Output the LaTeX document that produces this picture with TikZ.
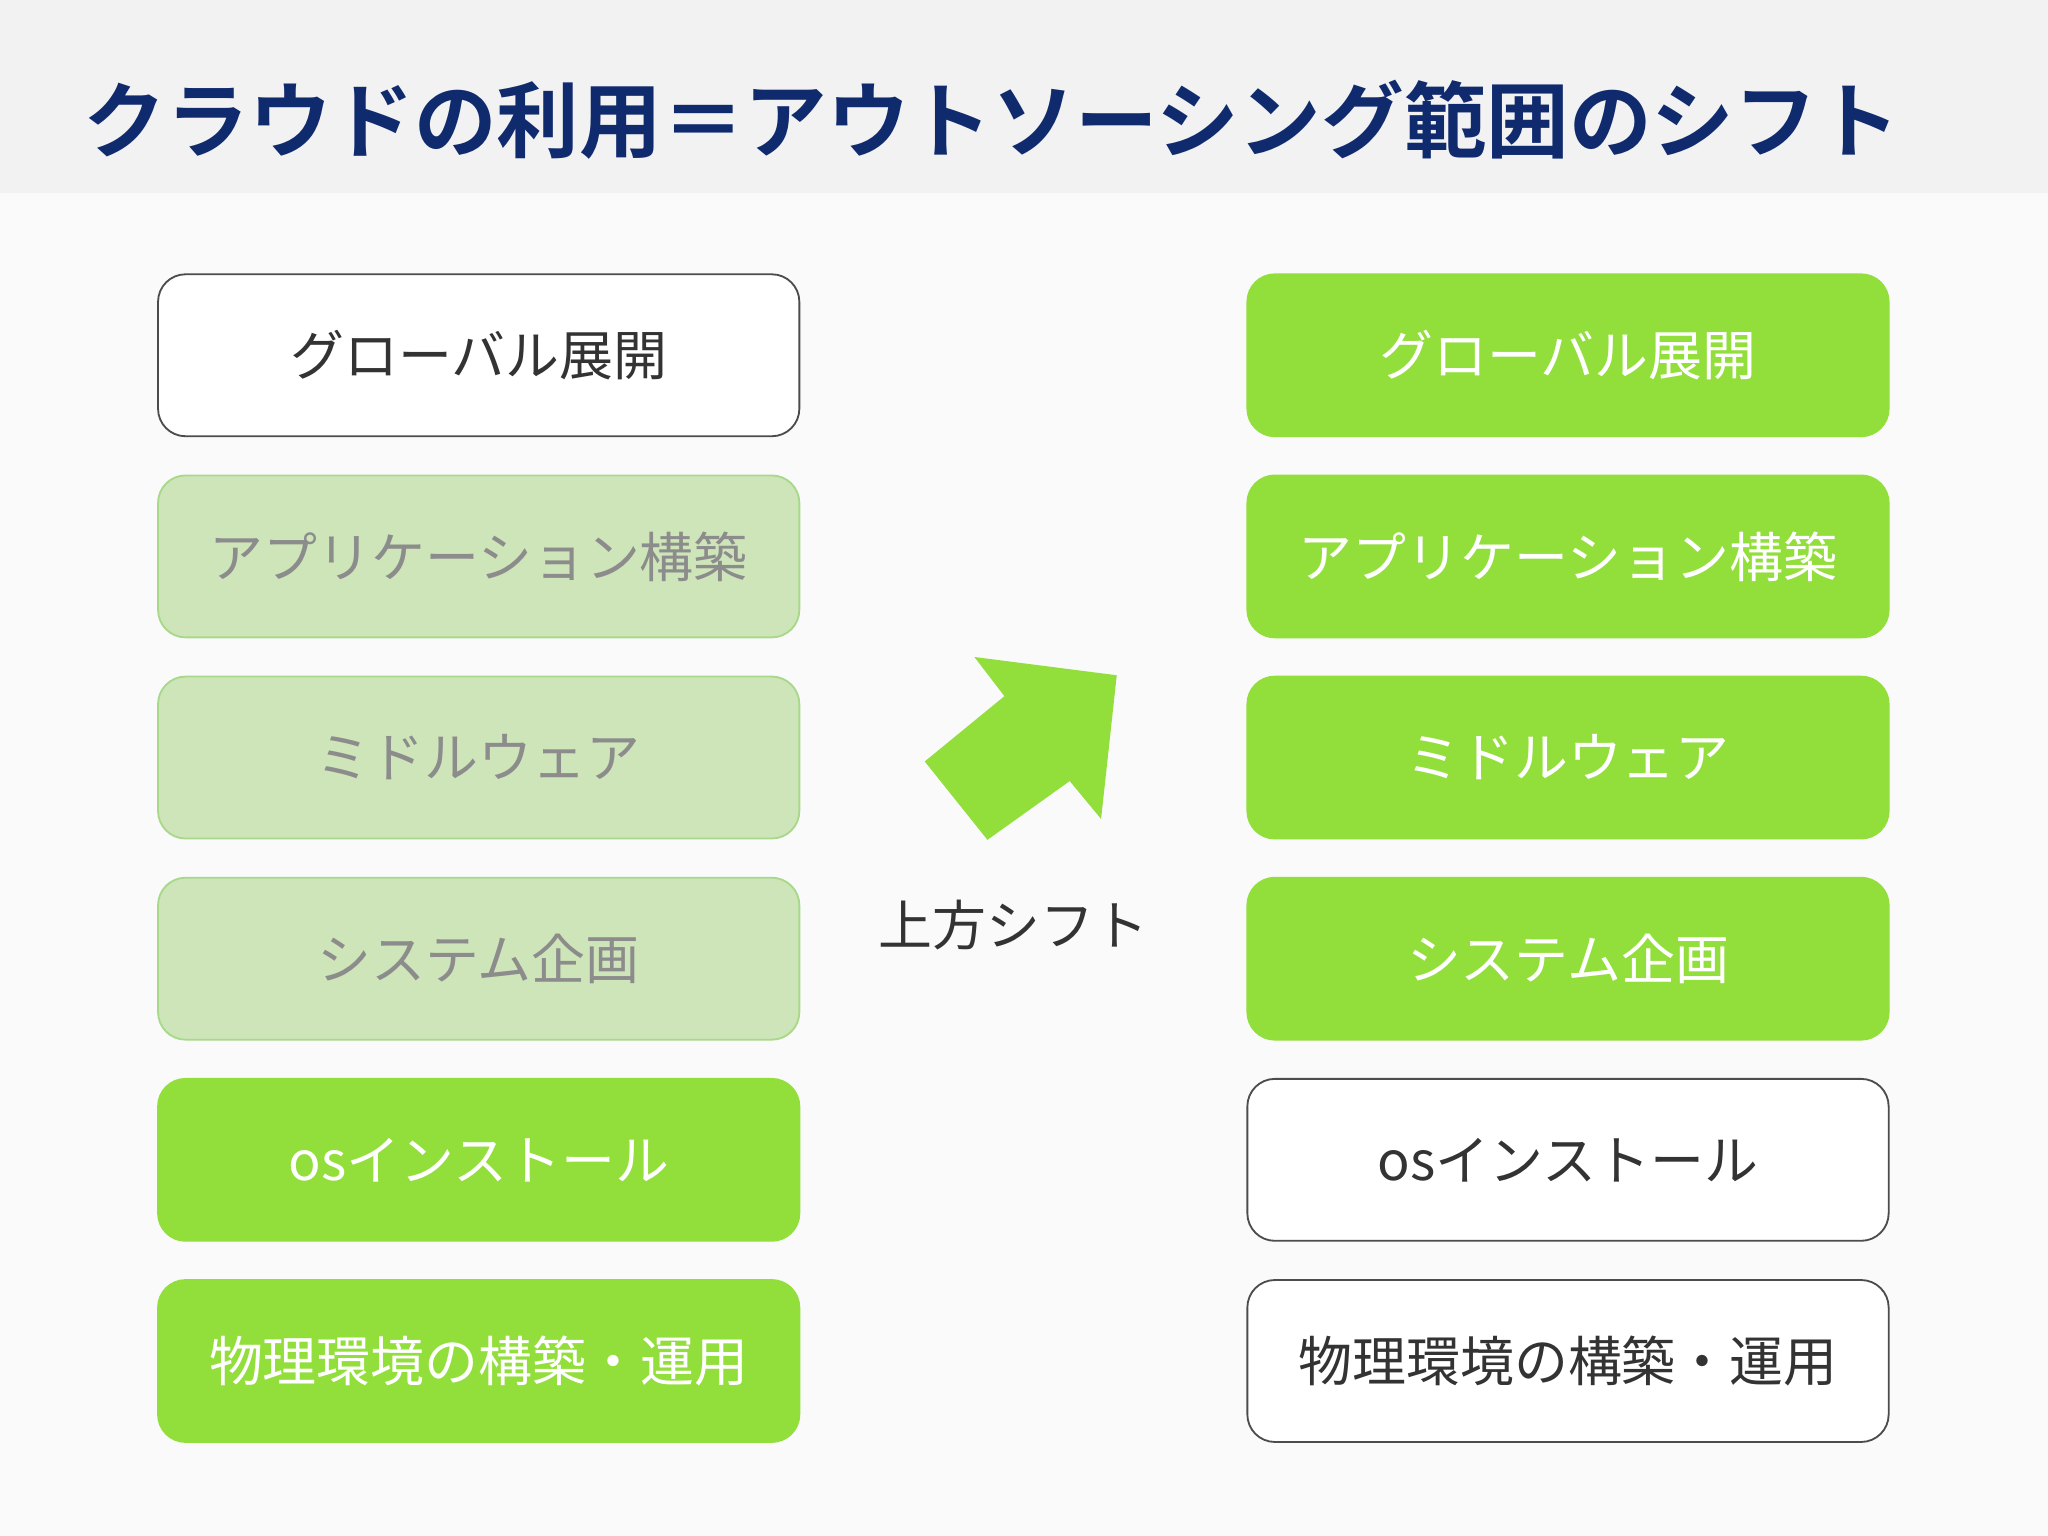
\documentclass[tikz,border=0pt]{standalone}
\usepackage{fontspec}
\newfontfamily\jp{Noto Sans CJK JP}
\newfontfamily\jpb{Noto Sans CJK JP Bold}
\definecolor{gr}{HTML}{92DE3A}
\definecolor{lg}{HTML}{CDE5B8}
\definecolor{lgb}{HTML}{A8D88A}
\definecolor{navy}{HTML}{102A6E}
\tikzset{
 box/.style={rounded corners=12pt,minimum width=491*0.02cm,minimum height=124*0.02cm,font=\jp\fontsize{23.5}{28}\selectfont,line width=0.8pt},
 wbox/.style={box,draw=black!70,fill=white,text=black!80},
 gbox/.style={box,draw=gr,fill=gr,text=white},
 lbox/.style={box,draw=lgb,fill=lg,text=black!45}
}
\begin{document}
\begin{tikzpicture}[x=0.02cm,y=-0.02cm]
\useasboundingbox (0,0) rectangle (1568,1176);
\fill[white!98!black] (0,0) rectangle (1568,1176);
\fill[white!95!black] (0,0) rectangle (1568,148);
\node[anchor=west,text=navy,font=\jpb\fontsize{36}{42}\selectfont] (title) at (58,92) {クラウドの利用＝アウトソーシング範囲のシフト};
\def\L{366.5}\def\R{1200.5}
\node[wbox] (l1) at (\L,272) {グローバル展開};
\node[lbox] (l2) at (\L,426) {アプリケーション構築};
\node[lbox] (l3) at (\L,580) {ミドルウェア};
\node[lbox] (l4) at (\L,734) {システム企画};
\node[gbox] (l5) at (\L,888) {osインストール};
\node[gbox] (l6) at (\L,1042) {物理環境の構築・運用};
\node[gbox] (r1) at (\R,272) {グローバル展開};
\node[gbox] (r2) at (\R,426) {アプリケーション構築};
\node[gbox] (r3) at (\R,580) {ミドルウェア};
\node[gbox] (r4) at (\R,734) {システム企画};
\node[wbox] (r5) at (\R,888) {osインストール};
\node[wbox] (r6) at (\R,1042) {物理環境の構築・運用};
\fill[gr] (746,503) -- (855,517) -- (843,627) -- (819,598) -- (756,643) -- (708,583) -- (769,533) -- cycle;
\node[font=\jp\fontsize{23.5}{28}\selectfont,text=black!80] (shift) at (776,708) {上方シフト};
\end{tikzpicture}
\end{document}
